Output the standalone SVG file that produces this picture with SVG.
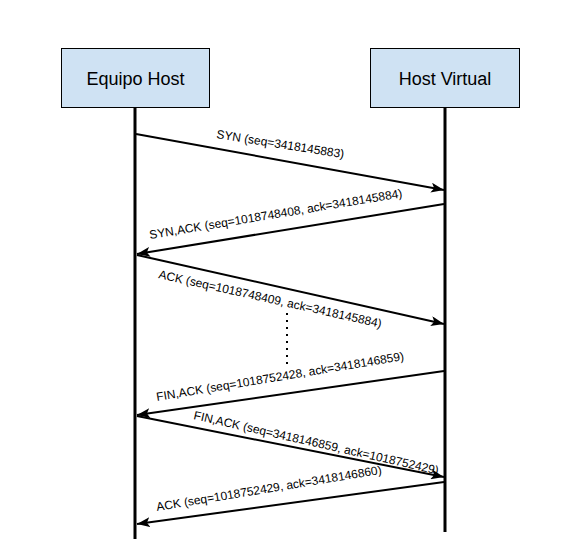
<svg xmlns="http://www.w3.org/2000/svg" width="583" height="558" viewBox="0 0 583 558">
<defs>
<marker id="ah" markerUnits="userSpaceOnUse" markerWidth="14" markerHeight="10" refX="13" refY="5" orient="auto">
<path d="M0,0 L13,5 L0,10 L3,5 Z" fill="#000"/>
</marker>
<style>
.box{fill:#cfe2f3;stroke:#000;stroke-width:1}
.title{font-family:"Liberation Sans",Arial,sans-serif;font-size:18px;fill:#000;text-anchor:middle}
.life{stroke:#000;stroke-width:3;fill:none}
.msg{stroke:#000;stroke-width:2;fill:none;marker-end:url(#ah)}
.lbl{font-family:"Liberation Sans",Arial,sans-serif;font-size:12px;fill:#000}
</style>
</defs>
<rect width="583" height="558" fill="#fff"/>
<g id="node-equipo-host">
<rect class="box" x="61.5" y="48.5" width="148" height="59"/>
<text class="title" x="135.5" y="85">Equipo Host</text>
</g>
<g id="node-host-virtual">
<rect class="box" x="370.5" y="48.5" width="149" height="59"/>
<text class="title" x="445" y="85">Host Virtual</text>
</g>
<g id="lifelines">
<line class="life" x1="135" y1="108" x2="135" y2="539"/>
<line class="life" x1="445" y1="108" x2="445" y2="532"/>
</g>
<g id="connectors">
<path class="msg" d="M136,134 L444,190"/>
<path class="msg" d="M444,204 L137,254"/>
<path class="msg" d="M137,255 L444,324"/>
<path class="msg" d="M444,371 L137,415"/>
<path class="msg" d="M137,416 L444,477"/>
<path class="msg" d="M444,482 L137,524"/>
<line x1="287" y1="313" x2="287" y2="365" stroke="#000" stroke-width="2" stroke-dasharray="2,5"/>
</g>
<g id="labels">
<text class="lbl" transform="translate(216,138) rotate(9)">SYN (seq=3418145883)</text>
<text class="lbl" transform="translate(150,239) rotate(-9.4)">SYN,ACK (seq=1018748408, ack=3418145884)</text>
<text class="lbl" transform="translate(158,278) rotate(12.6)">ACK (seq=1018748409, ack=3418145884)</text>
<text class="lbl" transform="translate(157,401) rotate(-9.4)">FIN,ACK (seq=1018752428, ack=3418146859)</text>
<text class="lbl" transform="translate(193,419) rotate(12.8)">FIN,ACK (seq=3418146859, ack=1018752429)</text>
<text class="lbl" transform="translate(157,511) rotate(-9.4)">ACK (seq=1018752429, ack=3418146860)</text>
</g>
</svg>
